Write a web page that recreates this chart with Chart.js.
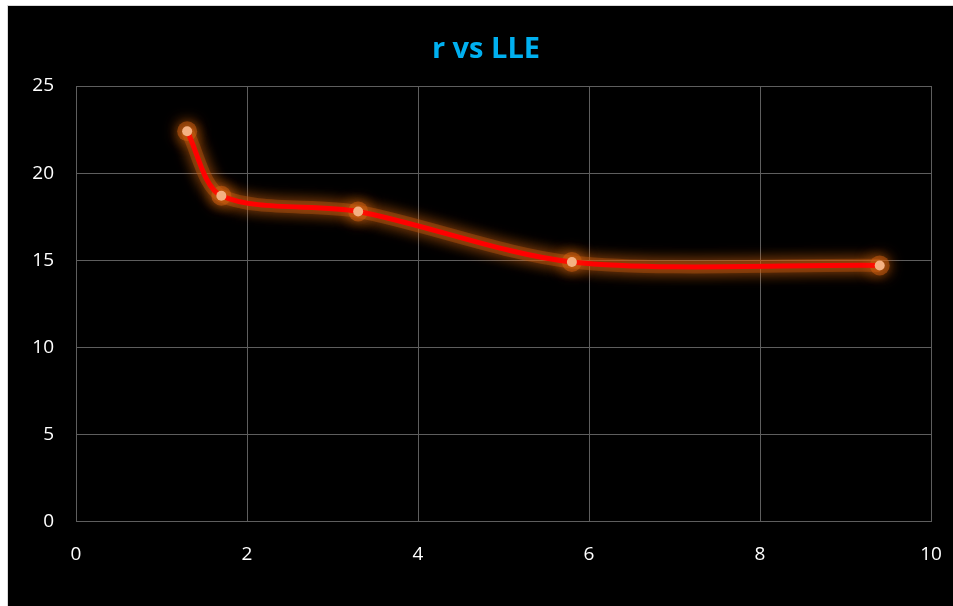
<!DOCTYPE html>
<html>
<head>
<meta charset="utf-8">
<script src="https://cdn.jsdelivr.net/npm/chart.js@4.4.0/dist/chart.umd.min.js"></script>
<style>
    html, body { margin: 0; padding: 0; background: #ffffff; }
    #wrap {
        position: absolute;
        left: 7px;
        top: 5px;
        width: 946px;
        height: 601px;
        background: #000000;
        border-left: 1px solid #d9d9d9;
        border-top: 1px solid #d9d9d9;
        box-sizing: border-box;
    }
</style>
</head>
<body>
<div id="wrap"><canvas id="lle-chart"></canvas></div>
<script>
// r vs LLE data
const rValues = [1.3, 1.7, 3.3, 5.8, 9.4];
const lleValues = [22.4, 18.7, 17.8, 14.9, 14.7];
const xTicks = [0, 2, 4, 6, 8, 10];
const yTicks = [0, 5, 10, 15, 20, 25];
const chartTitle = 'r vs LLE';

document.addEventListener('DOMContentLoaded', function() {
    const points = rValues.map(function(r, i) {
        return { x: r, y: lleValues[i] };
    });

    // orange glow round the line and markers
    const glowPlugin = {
        id: 'glow',
        beforeDatasetsDraw: function(chart) {
            const ctx = chart.ctx;
            ctx.save();
            ctx.shadowColor = 'rgba(230, 110, 20, 1)';
            ctx.shadowBlur = 15;
        },
        afterDatasetsDraw: function(chart) {
            chart.ctx.restore();
        }
    };

    // title drawn by hand so it can sit a bit right of the canvas centre
    const titlePlugin = {
        id: 'fixedTitle',
        afterDraw: function(chart) {
            const ctx = chart.ctx;
            ctx.save();
            ctx.fillStyle = '#00b0f0';
            ctx.font = 'bold 29px "Open Sans"';
            ctx.textAlign = 'center';
            ctx.textBaseline = 'middle';
            ctx.fillText(chartTitle, 478, 44);
            ctx.restore();
        }
    };

    const ctx = document.getElementById('lle-chart').getContext('2d');
    const lleChart = new Chart(ctx, {
        type: 'scatter',
        data: {
            datasets: [{
                label: 'LLE',
                data: points,
                showLine: true,
                borderColor: '#ff0000',
                borderWidth: 5,
                tension: 0.3,
                pointRadius: 5,
                pointBackgroundColor: '#f4b183',
                pointBorderColor: '#f4b183',
                pointBorderWidth: 0,
                clip: false,
                order: 1
            }, {
                label: 'glow',
                data: points,
                showLine: true,
                borderColor: 'rgba(180, 80, 15, 0.42)',
                borderWidth: 13,
                tension: 0.3,
                pointRadius: 10,
                pointBackgroundColor: 'rgba(200, 90, 15, 0.5)',
                pointBorderWidth: 0,
                clip: false,
                order: 2
            }]
        },
        options: {
            responsive: true,
            maintainAspectRatio: false,
            animation: false,
            layout: {
                padding: { left: 0, right: 22, top: 80, bottom: 0 }
            },
            plugins: {
                legend: { display: false },
                tooltip: { enabled: false },
                title: { display: false }
            },
            scales: {
                x: {
                    type: 'linear',
                    min: 0,
                    max: 10,
                    afterBuildTicks: function(axis) {
                        axis.ticks = xTicks.map(function(v) { return { value: v }; });
                    },
                    afterFit: function(axis) {
                        axis.height = 84.5;
                        axis.paddingLeft = 0;
                        axis.paddingRight = 0;
                    },
                    grid: { color: '#5e5e5e', lineWidth: 1, drawTicks: false },
                    border: { color: '#5e5e5e' },
                    ticks: {
                        color: '#ffffff',
                        padding: 22,
                        font: { family: 'Open Sans', size: 19 }
                    }
                },
                y: {
                    min: 0,
                    max: 25,
                    afterBuildTicks: function(axis) {
                        axis.ticks = yTicks.map(function(v) { return { value: v }; });
                    },
                    afterFit: function(axis) {
                        axis.width = 68;
                        axis.paddingTop = 0;
                        axis.paddingBottom = 0;
                    },
                    grid: { color: '#5e5e5e', lineWidth: 1, drawTicks: false },
                    border: { color: '#5e5e5e' },
                    ticks: {
                        color: '#ffffff',
                        padding: 22,
                        font: { family: 'Open Sans', size: 19 }
                    }
                }
            }
        },
        plugins: [glowPlugin, titlePlugin]
    });
});
</script>
</body>
</html>
